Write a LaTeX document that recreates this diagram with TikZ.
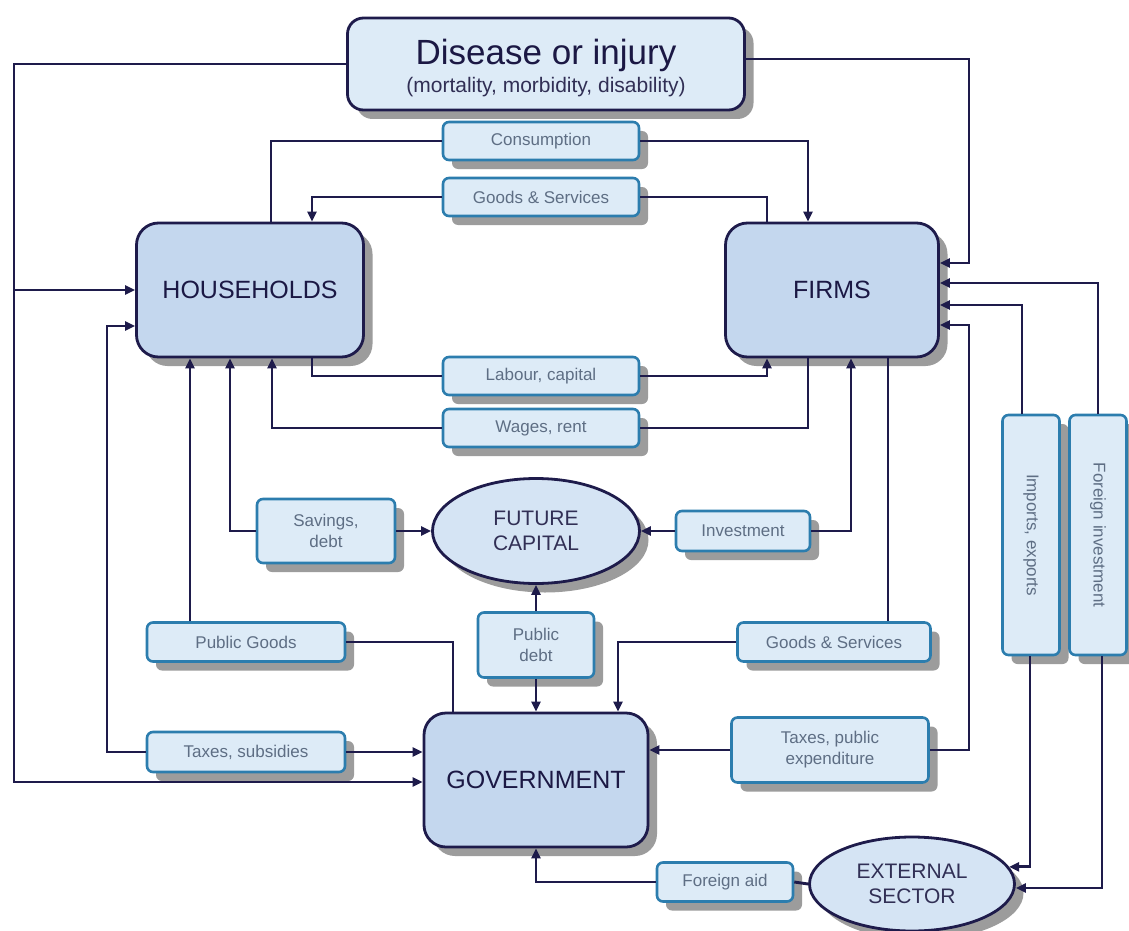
\documentclass[tikz,border=0pt]{standalone}
\usepackage{fontspec}
\setmainfont{Liberation Sans}
\usetikzlibrary{arrows.meta,shadows,shapes.geometric}
\definecolor{navy}{HTML}{1E1B4B}
\definecolor{bigfill}{HTML}{C4D7EE}
\definecolor{smallfill}{HTML}{DDEBF7}
\definecolor{smallborder}{HTML}{2C7DAE}
\definecolor{smalltext}{HTML}{5E6E84}
\definecolor{ellfill}{HTML}{D5E4F4}
\definecolor{shadowgray}{HTML}{9C9C9C}
\begin{document}
\begin{tikzpicture}[x=1pt,y=-1pt,
  shad/.style={drop shadow={shadow xshift=9pt,shadow yshift=-9pt,fill=shadowgray,opacity=1}},
  bigbox/.style={shad,draw=navy,line width=2.8pt,fill=bigfill,rounded corners=22pt,inner sep=0pt,
    font=\fontsize{25}{28}\selectfont,text=navy!90!black},
  smallbox/.style={shad,draw=smallborder,line width=2.6pt,fill=smallfill,rounded corners=6pt,inner sep=0pt,
    font=\fontsize{17}{21}\selectfont,text=smalltext,align=center},
  ellnode/.style={shad,ellipse,draw=navy,line width=2.8pt,fill=ellfill,inner sep=0pt,
    font=\fontsize{21}{25}\selectfont,text=navy!80!gray,align=center},
  conn/.style={draw=navy,line width=2.9pt},
  arr/.style={-{Triangle[length=10pt,width=9pt]}}
]
\useasboundingbox (0,0) rectangle (1129,931);
\fill[white] (0,0) rectangle (1129,931);

% main nodes
\node[shad,draw=navy,line width=2.8pt,fill=smallfill,rounded corners=16pt,minimum width=397pt,minimum height=92pt] (dis) at (546,64) {};
\node[anchor=base,font=\fontsize{35}{38}\selectfont,text=navy!90!black] (dist1) at (546,65) {Disease or injury};
\node[anchor=base,font=\fontsize{21}{24}\selectfont,text=navy!80!gray] (dist2) at (546,93) {(mortality, morbidity, disability)};

\node[bigbox,minimum width=227pt,minimum height=134pt] (hh) at (250,290) {HOUSEHOLDS};
\node[bigbox,minimum width=213pt,minimum height=134pt] (fi) at (832,290) {FIRMS};
\node[bigbox,minimum width=224pt,minimum height=134pt] (gov) at (536,780) {GOVERNMENT};

\node[ellnode,minimum width=207pt,minimum height=105pt] (fc) at (536,531) {FUTURE\\CAPITAL};
\node[ellnode,minimum width=205pt,minimum height=94pt] (ext) at (912,884) {EXTERNAL\\SECTOR};

% flow boxes
\node[smallbox,minimum width=196pt,minimum height=38pt] (cons) at (541,141) {Consumption};
\node[smallbox,minimum width=196pt,minimum height=38pt] (gs1) at (541,197) {Goods \& Services};
\node[smallbox,minimum width=196pt,minimum height=38pt] (lab) at (541,376) {Labour, capital};
\node[smallbox,minimum width=196pt,minimum height=38pt] (wag) at (541,428) {Wages, rent};
\node[smallbox,minimum width=138pt,minimum height=64pt] (sav) at (326,531) {Savings,\\debt};
\node[smallbox,minimum width=134pt,minimum height=40pt] (inv) at (743,531) {Investment};
\node[smallbox,minimum width=198pt,minimum height=39pt] (pg) at (246,642) {Public Goods};
\node[smallbox,minimum width=116pt,minimum height=65pt] (pd) at (536,645) {Public\\debt};
\node[smallbox,minimum width=193pt,minimum height=39pt] (gs2) at (834,642) {Goods \& Services};
\node[smallbox,minimum width=198pt,minimum height=40pt] (tsub) at (246,752) {Taxes, subsidies};
\node[smallbox,minimum width=197pt,minimum height=65pt] (tpe) at (830,750) {Taxes, public\\expenditure};
\node[smallbox,minimum width=57pt,minimum height=240pt] (imp) at (1031,535) {\rotatebox{-90}{Imports, exports}};
\node[smallbox,minimum width=57pt,minimum height=240pt] (fdi) at (1098,535) {\rotatebox{-90}{Foreign investment}};
\node[smallbox,minimum width=136pt,minimum height=39pt] (aid) at (725,882) {Foreign aid};

% disease connectors
\coordinate (hhL) at (14,290);
\draw[conn,arr] (dis.west) -| (14,400) |- ([yshift=-2pt]gov.west);
\draw[conn,arr] (hhL) -- (hh.west);
\draw[conn,arr] ([yshift=5pt]dis.east) -| (969,150) |- ([yshift=27pt]fi.east);

% consumption, goods
\draw[conn] ([xshift=21pt]hh.north) |- (cons.west);
\draw[conn,arr] (cons.east) -| ([xshift=-24pt]fi.north);
\draw[conn] ([xshift=-65pt]fi.north) |- (gs1.east);
\draw[conn,arr] (gs1.west) -| ([xshift=62pt]hh.north);

% labour, wages
\draw[conn] ([xshift=62pt]hh.south) |- (lab.west);
\draw[conn,arr] (lab.east) -| ([xshift=-65pt]fi.south);
\draw[conn] ([xshift=-24pt]fi.south) |- (wag.east);
\draw[conn,arr] (wag.west) -| ([xshift=22pt]hh.south);

% savings, investment, public debt
\draw[conn,arr] (sav.west) -| ([xshift=-20pt]hh.south);
\draw[conn,arr] (sav.east) -- (fc.west);
\draw[conn,arr] (inv.west) -- (fc.east);
\draw[conn,arr] (inv.east) -| ([xshift=19pt]fi.south);
\draw[conn,arr] (pd.north) -- (fc.south);
\draw[conn,arr] (pd.south) -- (gov.north);

% public goods, taxes subsidies
\draw[conn,arr] ([xshift=-56pt]pg.north) -- ([xshift=-60pt]hh.south);
\draw[conn] (pg.east) -| ([xshift=-83pt]gov.north);
\draw[conn,arr] (tsub.west) -| (107,500) |- ([yshift=-36pt]hh.west);
\draw[conn,arr] (tsub.east) -- (tsub.east -| gov.west);

% goods & services 2, taxes public expenditure
\draw[conn] ([xshift=56pt]fi.south) -- ([xshift=54pt]gs2.north);
\draw[conn,arr] (gs2.west) -| ([xshift=82pt]gov.north);
\draw[conn,arr] (tpe.west) -- (tpe.west -| gov.east);
\draw[conn,arr] (tpe.east) -| (969,500) |- ([yshift=-35pt]fi.east);

% external
\draw[conn,arr] ([xshift=-9pt]imp.north) |- ([yshift=-15pt]fi.east);
\draw[conn,arr] (fdi.north) |- ([yshift=7pt]fi.east);
\draw[conn,arr] ([xshift=-1pt]imp.south) |- (ext.10);
\draw[conn,arr] ([xshift=4pt]fdi.south) |- ([yshift=-4pt]ext.east);
\draw[conn] (ext.west) -- (aid.east);
\draw[conn,arr] (aid.west) -| (gov.south);
\end{tikzpicture}
\end{document}
